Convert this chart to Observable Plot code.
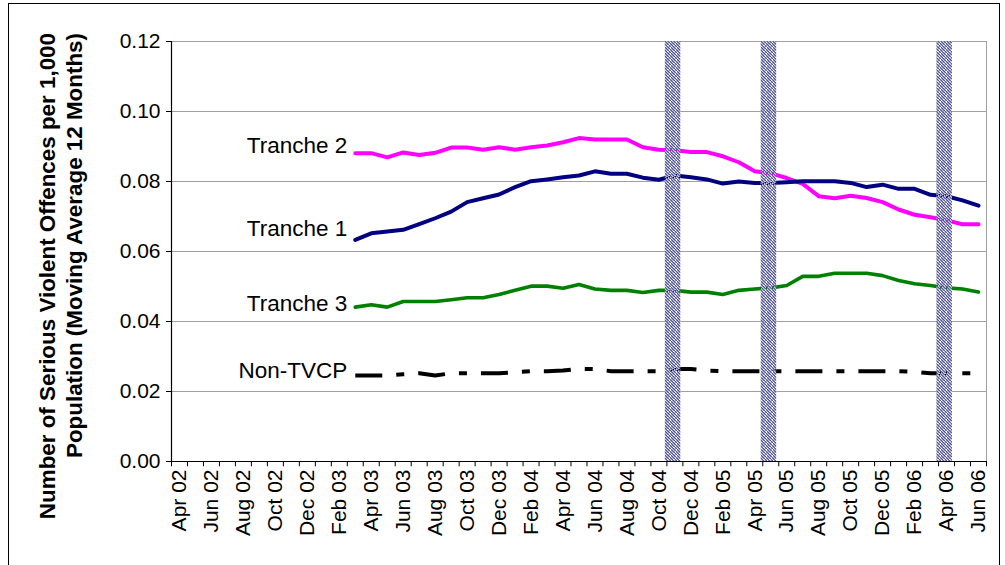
<!DOCTYPE html>
<html>
<head>
<meta charset="utf-8">
<script src="https://cdn.jsdelivr.net/npm/d3@7"></script>
<script src="https://cdn.jsdelivr.net/npm/@observablehq/plot@0.6"></script>
<style>
  html, body { margin: 0; padding: 0; background: #fff; overflow: hidden; }
  #wrap { position: relative; width: 1005px; height: 565px; }
  #border { position: absolute; left: 8px; top: 3px; width: 992px; height: 580px; border: 1px solid #000; box-sizing: border-box; pointer-events: none; }
  #chart { position: absolute; left: 0; top: 0; }
</style>
</head>
<body>
<div id="wrap"><div id="chart"></div><div id="border"></div></div>
<script>
// ---- Data ----
const months = [
  "Apr 02","May 02","Jun 02","Jul 02","Aug 02","Sep 02","Oct 02","Nov 02","Dec 02",
  "Jan 03","Feb 03","Mar 03","Apr 03","May 03","Jun 03","Jul 03","Aug 03","Sep 03","Oct 03","Nov 03","Dec 03",
  "Jan 04","Feb 04","Mar 04","Apr 04","May 04","Jun 04","Jul 04","Aug 04","Sep 04","Oct 04","Nov 04","Dec 04",
  "Jan 05","Feb 05","Mar 05","Apr 05","May 05","Jun 05","Jul 05","Aug 05","Sep 05","Oct 05","Nov 05","Dec 05",
  "Jan 06","Feb 06","Mar 06","Apr 06","May 06","Jun 06"
];
const seriesStart = "Mar 03";
const seriesNames = ["Tranche 2", "Tranche 1", "Tranche 3", "Non-TVCP"];
const tranche2 = [0.0881,0.0881,0.0869,0.0883,0.0876,0.0882,0.0897,0.0897,0.0891,0.0898,0.0891,0.0898,0.0903,
  0.0912,0.0924,0.0920,0.0920,0.0920,0.0898,0.0891,0.0889,0.0884,0.0884,0.0872,0.0855,0.0829,0.0823,
  0.0810,0.0793,0.0758,0.0752,0.0759,0.0753,0.0741,0.0720,0.0705,0.0698,0.0689,0.0678,0.0678];
const tranche1 = [0.0633,0.0652,0.0657,0.0662,0.0678,0.0695,0.0714,0.0741,0.0752,0.0763,0.0784,0.0801,0.0806,
  0.0812,0.0817,0.0829,0.0822,0.0822,0.0811,0.0805,0.0817,0.0812,0.0806,0.0794,0.0800,0.0796,0.0796,
  0.0798,0.0801,0.0801,0.0801,0.0796,0.0784,0.0791,0.0779,0.0779,0.0762,0.0758,0.0746,0.0731];
const tranche3 = [0.0441,0.0448,0.0441,0.0457,0.0457,0.0457,0.0462,0.0468,0.0468,0.0477,0.0489,0.0501,0.0501,
  0.0495,0.0506,0.0493,0.0489,0.0489,0.0483,0.0489,0.0489,0.0484,0.0484,0.0477,0.0489,0.0493,0.0496,
  0.0503,0.0529,0.0529,0.0538,0.0538,0.0538,0.0531,0.0517,0.0508,0.0503,0.0496,0.0493,0.0484];
const nonTVCP = [0.0246,0.0246,0.0246,0.0249,0.0252,0.0246,0.0252,0.0252,0.0252,0.0252,0.0255,0.0258,0.0258,
  0.0260,0.0265,0.0264,0.0258,0.0258,0.0258,0.0258,0.0264,0.0264,0.0260,0.0258,0.0258,0.0258,0.0258,
  0.0258,0.0258,0.0258,0.0258,0.0258,0.0258,0.0258,0.0258,0.0256,0.0252,0.0252,0.0252,0.0252];
const shadedMonths = ["Nov 04", "May 05", "Apr 06"];
const yTicks = [0, 0.02, 0.04, 0.06, 0.08, 0.10, 0.12];
const yTitle = ["Number of Serious Violent Offences per 1,000", "Population (Moving Average 12 Months)"];

// ---- Styles ----
const styles = {
  "Tranche 2": {stroke: "#ff00ff", strokeWidth: 4, dash: null, dy: -7},
  "Tranche 1": {stroke: "#000080", strokeWidth: 4, dash: null, dy: -11},
  "Tranche 3": {stroke: "#008000", strokeWidth: 3.6, dash: null, dy: -3},
  "Non-TVCP":  {stroke: "#000000", strokeWidth: 4, dash: "27,14,8,14", dy: -5}
};
const FONT = "Arial, 'Liberation Sans', sans-serif";

// ---- Build ----
const start = months.indexOf(seriesStart);
const valuesByName = {"Tranche 2": tranche2, "Tranche 1": tranche1, "Tranche 3": tranche3, "Non-TVCP": nonTVCP};
const rowsOf = name => valuesByName[name].map((v, k) => ({series: name, i: start + k, v}));
const xTicks = months.map((m, i) => i).filter(i => i % 2 === 0).map(i => i + 0.5);
const boundaries = d3.range(months.length + 1);
const shaded = shadedMonths.map(m => months.indexOf(m));

const marks = [
  Plot.ruleY(yTicks.filter(t => t > 0 && t < 0.12), {stroke: "#a0a0a0", strokeWidth: 1}),
  Plot.ruleY([0.12], {stroke: "#a0a0a0"}),
  Plot.ruleX([months.length], {stroke: "#a0a0a0"}),
];
for (const name of seriesNames) {
  const s = styles[name];
  marks.push(Plot.line(rowsOf(name), {
    x: d => d.i + 0.5, y: "v", stroke: s.stroke, strokeWidth: s.strokeWidth,
    strokeDasharray: s.dash, strokeLinejoin: "round", strokeLinecap: s.dash ? "butt" : "round"
  }));
}
marks.push(Plot.rect(shaded, {x1: d => d - 0.1, x2: d => d + 0.87, fill: "url(#stipple)"}));
for (const name of seriesNames) {
  marks.push(Plot.text(rowsOf(name).slice(0, 1), {
    x: d => d.i + 0.5, y: "v", text: "series", textAnchor: "end",
    dx: -8, dy: styles[name].dy, fontSize: 22.5, fill: "#000"
  }));
}
marks.push(
  Plot.ruleX([0], {stroke: "#000", strokeWidth: 1.2}),
  Plot.ruleY([0], {stroke: "#000", strokeWidth: 1.2}),
  Plot.ruleX(boundaries, {x: d => d, y1: 0, y2: -0.0015, stroke: "#000"})
);

const svg = Plot.plot({
  width: 1005,
  height: 565,
  marginLeft: 171,
  marginRight: 19,
  marginTop: 41,
  marginBottom: 104,
  style: {fontFamily: FONT, fontSize: "21px", color: "#000", background: "transparent", overflow: "visible"},
  x: {
    type: "linear", domain: [0, months.length], ticks: xTicks,
    tickFormat: t => months[Math.round(t - 0.5)], tickRotate: -90,
    tickSize: 0, tickPadding: 8, label: null
  },
  y: {
    domain: [0, 0.12], ticks: yTicks, tickFormat: d3.format(".2f"),
    tickSize: 5, tickPadding: 6, label: null
  },
  marks
});

// stipple pattern for shaded periods
const sel = d3.select(svg);
const defs = sel.insert("defs", ":first-child");
const pat = defs.append("pattern").attr("id", "stipple").attr("patternUnits", "userSpaceOnUse")
  .attr("width", 6).attr("height", 6);
const C = {D: "#55558f", M: "#8c8cbc", L: "#c8c8e2", W: null};
const tile = [
  "DLMDWM",
  "MDLLDL",
  "LMDWMD",
  "DWLDLM",
  "MDLMDW",
  "LMDLWD"
];
tile.forEach((row, y) => row.split("").forEach((k, x) => {
  const c = C[k];
  if (c) pat.append("rect").attr("x", x).attr("y", y).attr("width", 1).attr("height", 1).attr("fill", c);
}));

// rotated two-line y-axis title
const tg = sel.append("g").attr("font-family", FONT).attr("font-weight", "bold").attr("font-size", 22.4).attr("fill", "#000");
tg.append("text").attr("transform", "translate(55,33) rotate(-90)").attr("text-anchor", "end").text(yTitle[0]);
tg.append("text").attr("transform", "translate(82,33) rotate(-90)").attr("text-anchor", "end").text(yTitle[1]);

document.getElementById("chart").appendChild(svg);
</script>
</body>
</html>
